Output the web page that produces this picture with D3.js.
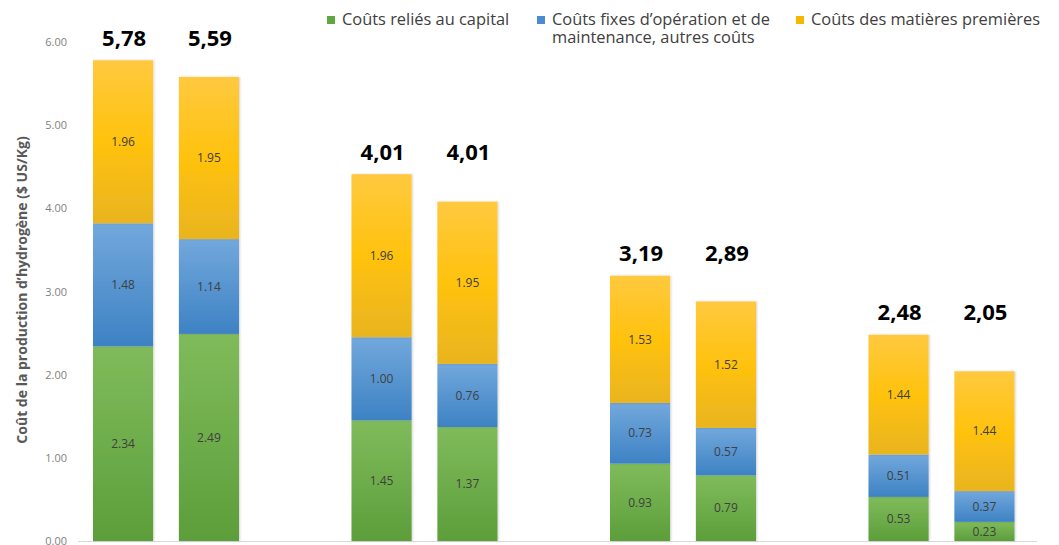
<!DOCTYPE html>
<html><head><meta charset="utf-8">
<script src="https://cdn.jsdelivr.net/npm/d3@7"></script>
<style>body{margin:0;background:#fff}svg{display:block}</style>
</head><body><svg id="c" width="1059" height="545"></svg>
<script>
const groups = ["G1","G2","G3","G4"];
const bars = ["A","B"];
const capital = [2.34, 2.49, 1.45, 1.37, 0.93, 0.79, 0.53, 0.23];
const fixes   = [1.48, 1.14, 1.00, 0.76, 0.73, 0.57, 0.51, 0.37];
const matieres= [1.96, 1.95, 1.96, 1.95, 1.53, 1.52, 1.44, 1.44];
const totals  = ["5,78","5,59","4,01","4,01","3,19","2,89","2,48","2,05"];
const yTicks  = [0,1,2,3,4,5,6];
const seriesNames = ["Coûts reliés au capital", "Coûts fixes d’opération et de|maintenance, autres coûts", "Coûts des matières premières"];
const seriesKeys = ["capital","fixes","matieres"];

const colors = {
  capital: ["#80bb5b","#5c9e3a"],
  fixes: ["#72a8dc","#3d82c4"],
  matieres: ["#ffc93f","#e9b420"]
};
const legendColors = ["#5fa73f","#4a8ccf","#f5b800"];

const svg = d3.select("#c");
const font = "'Open Sans', sans-serif";

const defs = svg.append("defs");
seriesKeys.forEach(k=>{
  const g = defs.append("linearGradient").attr("id","g_"+k).attr("x1",0).attr("y1",0).attr("x2",0).attr("y2",1);
  g.append("stop").attr("offset","0%").attr("stop-color",colors[k][0]);
  g.append("stop").attr("offset","50%").attr("stop-color", k==="matieres" ? "#ffc20e" : d3.interpolateRgb(colors[k][0],colors[k][1])(0.5));
  g.append("stop").attr("offset","100%").attr("stop-color",colors[k][1]);
});
const f = defs.append("filter").attr("id","sh").attr("x","-10%").attr("y","-5%").attr("width","130%").attr("height","115%");
f.append("feDropShadow").attr("dx",1).attr("dy",0).attr("stdDeviation",1.2).attr("flood-color","#000").attr("flood-opacity",0.18);

const y = d3.scaleLinear().domain([0,6]).range([541,42]);
const x0 = d3.scaleBand().domain(groups).range([37,1071]).paddingInner(0).paddingOuter(0);
const x1 = d3.scaleBand().domain(bars).range([56,202]).paddingInner(0.3).paddingOuter(0);

const data = capital.map((c,i)=>({group:groups[Math.floor(i/2)], bar:bars[i%2], capital:c, fixes:fixes[i], matieres:matieres[i], total:totals[i]}));
const stack = d3.stack().keys(seriesKeys)(data);

// y axis labels
const yAxis = d3.axisLeft(y).tickValues(yTicks).tickFormat(d3.format(".2f")).tickSize(0).tickPadding(0);
const ya = svg.append("g").attr("transform","translate(67,0)").call(yAxis);
ya.select(".domain").remove();
ya.selectAll("text").attr("font-family",font).attr("font-size",11).attr("fill","#7f7f7f");

// baseline
svg.append("line").attr("x1",78).attr("x2",1037).attr("y1",y(0)+0.5).attr("y2",y(0)+0.5).attr("stroke","#d9d9d9").attr("stroke-width",1.2);

// bars
stack.forEach(layer=>{
  const key = layer.key;
  svg.append("g").selectAll("rect").data(layer).join("rect")
    .attr("x",d=>x0(d.data.group)+x1(d.data.bar))
    .attr("width",x1.bandwidth())
    .attr("y",d=>y(d[1]))
    .attr("height",d=>y(d[0])-y(d[1]))
    .attr("fill","url(#g_"+key+")")
    .attr("filter","url(#sh)");
});
// segment labels
stack.forEach(layer=>{
  svg.append("g").selectAll("text").data(layer).join("text")
    .attr("x",d=>x0(d.data.group)+x1(d.data.bar)+x1.bandwidth()/2)
    .attr("y",d=>(y(d[0])+y(d[1]))/2)
    .attr("dy","0.35em")
    .attr("text-anchor","middle")
    .attr("font-family",font).attr("font-size",12).attr("fill","#404040")
    .text(d=>d3.format(".2f")(d.data[layer.key]));
});

// totals above groups
const groupMax = {};
data.forEach(d=>{ const t=d.capital+d.fixes+d.matieres; groupMax[d.group]=Math.max(groupMax[d.group]||0,t); });
svg.append("g").selectAll("text").data(data).join("text")
  .attr("x",d=>x0(d.group)+x1(d.bar)+x1.bandwidth()/2+1)
  .attr("y",d=>y(groupMax[d.group])-22)
  .attr("dy","0.35em")
  .attr("text-anchor","middle")
  .attr("font-family",font).attr("font-size",22).attr("font-weight","bold").attr("fill","#000")
  .text(d=>d.total);

// y title
svg.append("text").attr("transform","translate(27,290) rotate(-90)")
  .attr("text-anchor","middle").attr("font-family",font).attr("font-size",14).attr("font-weight","bold").attr("fill","#595959")
  .text("Coût de la production d’hydrogène ($ US/Kg)");

// legend
const legX = [327, 537, 796];
seriesNames.forEach((n,i)=>{
  const g = svg.append("g").attr("transform",`translate(${legX[i]},19)`);
  g.append("rect").attr("x",0).attr("y",-3).attr("width",8).attr("height",8).attr("fill",legendColors[i]);
  const t = g.append("text").attr("x",15).attr("y",0).attr("font-family",font).attr("font-size",16.4).attr("fill","#404040");
  n.split("|").forEach((line,j)=>{
    t.append("tspan").attr("x",15).attr("y", j*18).attr("dy","0.35em").text(line);
  });
});
</script></body></html>
